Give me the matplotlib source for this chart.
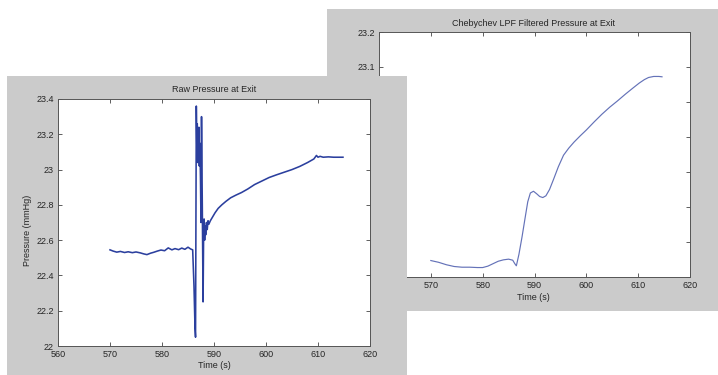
import matplotlib
matplotlib.use("Agg")
import matplotlib.pyplot as plt
from matplotlib.patches import Rectangle
from matplotlib.ticker import FormatStrFormatter, FuncFormatter

# ---------------- data ----------------
raw_time = [570.0, 570.6, 571.3, 572.0, 572.8, 573.5, 574.3, 575.0, 575.8, 576.5,
            577.1, 577.8, 578.4, 579.1, 579.8, 580.5, 581.2, 581.9, 582.5, 583.2,
            583.8, 584.4, 585.0, 585.5, 585.9, 586.15, 586.35, 586.45, 586.6, 586.7,
            586.78, 586.86, 586.94, 587.02, 587.1, 587.18, 587.26, 587.34, 587.4, 587.5,
            587.6, 587.75, 587.9, 588.0, 588.1, 588.2, 588.3, 588.4, 588.55, 588.7,
            588.85, 589.0, 589.3, 589.7, 590.2, 590.8, 591.5, 592.3, 593.2, 594.2,
            595.3, 596.5, 597.8, 599.2, 600.6, 602.0, 603.5, 605.0, 606.5, 608.0,
            609.2, 609.7, 610.0, 610.4, 611.0, 612.0, 613.0, 614.0, 614.8]
raw_pressure = [22.545, 22.538, 22.532, 22.536, 22.530, 22.534, 22.529, 22.533, 22.528, 22.522,
                22.518, 22.526, 22.531, 22.538, 22.544, 22.540, 22.556, 22.545, 22.552, 22.546,
                22.555, 22.548, 22.560, 22.550, 22.545, 22.34, 22.10, 22.05, 23.36, 23.12,
                23.26, 23.04, 23.22, 23.08, 23.24, 23.02, 23.15, 23.05, 22.95, 22.70,
                23.30, 22.80, 22.25, 22.62, 22.72, 22.60, 22.68, 22.63, 22.70, 22.66,
                22.71, 22.69, 22.71, 22.73, 22.755, 22.78, 22.80, 22.82, 22.84, 22.855,
                22.87, 22.89, 22.915, 22.935, 22.955, 22.97, 22.985, 23.0, 23.018, 23.04,
                23.06, 23.08, 23.07, 23.075, 23.07, 23.072, 23.07, 23.07, 23.07]

filt_time = [570.0, 571.5, 573.0, 574.5, 576.0, 577.5, 579.0, 580.0, 581.0, 582.0,
             583.0, 584.0, 585.0, 585.8, 586.2, 586.5, 587.0, 587.6, 588.2, 588.7,
             589.2, 589.8, 590.4, 591.0, 591.6, 592.2, 592.9, 593.7, 594.6, 595.6,
             596.6, 597.6, 598.8, 600.0, 601.5, 603.0, 604.5, 606.0, 607.5, 609.0,
             610.2, 611.2, 612.0, 613.0, 614.0, 614.6]
filt_pressure = [22.547, 22.542, 22.535, 22.530, 22.528, 22.528, 22.527, 22.527, 22.531, 22.538,
                 22.545, 22.549, 22.551, 22.548, 22.538, 22.532, 22.565, 22.615, 22.670, 22.715,
                 22.740, 22.745, 22.738, 22.730, 22.727, 22.732, 22.750, 22.780, 22.815, 22.848,
                 22.868, 22.885, 22.903, 22.920, 22.943, 22.965, 22.985, 23.003, 23.022, 23.040,
                 23.054, 23.064, 23.070, 23.073, 23.073, 23.072]

x_ticks = [560, 570, 580, 590, 600, 610, 620]
raw_y_ticks = [22.0, 22.2, 22.4, 22.6, 22.8, 23.0, 23.2, 23.4]
filt_y_ticks = [22.5, 22.6, 22.7, 22.8, 22.9, 23.0, 23.1, 23.2]

# ---------------- layout ----------------
W, H = 718, 375
plt.rcParams['font.family'] = ['Liberation Sans', 'DejaVu Sans']
fig = plt.figure(figsize=(W / 100, H / 100), dpi=100)
fig.patch.set_facecolor('white')

GREY = '#cbcbcb'
TXT = '#262626'
FS = 6.5


def px_rect(x0, y0, x1, y1):
    return [x0 / W, 1 - y1 / H, (x1 - x0) / W, (y1 - y0) / H]


def style_axes(ax, xt, yt, ylim):
    ax.set_facecolor('white')
    ax.set_xlim(560, 620)
    ax.set_ylim(*ylim)
    ax.set_xticks(xt)
    ax.set_yticks(yt)
    ax.yaxis.set_major_formatter(FuncFormatter(lambda v, p: ('%.1f' % v).rstrip('0').rstrip('.')))
    ax.xaxis.set_major_formatter(FormatStrFormatter('%d'))
    ax.tick_params(direction='in', length=3, width=0.6, colors='#444444',
                   labelcolor=TXT, labelsize=FS, top=True, right=True, pad=3)
    for s in ax.spines.values():
        s.set_linewidth(0.7)
        s.set_color('#555555')


# right (back) panel
r = px_rect(327, 9, 718, 311)
fig.patches.append(Rectangle((r[0], r[1]), r[2], r[3], transform=fig.transFigure,
                             facecolor=GREY, edgecolor='none', zorder=1))
ax2 = fig.add_axes(px_rect(379, 32, 690, 277))
ax2.set_zorder(2)
style_axes(ax2, x_ticks, filt_y_ticks, (22.5, 23.2))
ax2.plot(filt_time, filt_pressure, color='#6472b8', lw=0.85)
fig.text(534 / W, 1 - 23.5 / H, 'Chebychev LPF Filtered Pressure at Exit', ha='center', va='center',
         fontsize=FS, color=TXT, zorder=2)
fig.text(533 / W, 1 - 298 / H, 'Time (s)', ha='center', va='center', fontsize=FS, color=TXT, zorder=2)

# left (front) panel
r = px_rect(7, 76, 407, 375)
fig.patches.append(Rectangle((r[0], r[1]), r[2], r[3], transform=fig.transFigure,
                             facecolor=GREY, edgecolor='none', zorder=3))
ax1 = fig.add_axes(px_rect(58, 99, 370, 346))
ax1.set_zorder(4)
style_axes(ax1, x_ticks, raw_y_ticks, (22.0, 23.4))
ax1.plot(raw_time, raw_pressure, color='#2b3f9e', lw=1.15)
fig.text(214 / W, 1 - 89 / H, 'Raw Pressure at Exit', ha='center', va='center',
         fontsize=FS, color=TXT, zorder=5)
fig.text(214 / W, 1 - 365 / H, 'Time (s)', ha='center', va='center', fontsize=FS, color=TXT, zorder=5)
fig.text(28 / W, 1 - 230 / H, 'Pressure (mmHg)', ha='center', va='center', rotation=90,
         fontsize=FS, color=TXT, zorder=5)

fig.savefig('out.png', dpi=100, facecolor='white')
